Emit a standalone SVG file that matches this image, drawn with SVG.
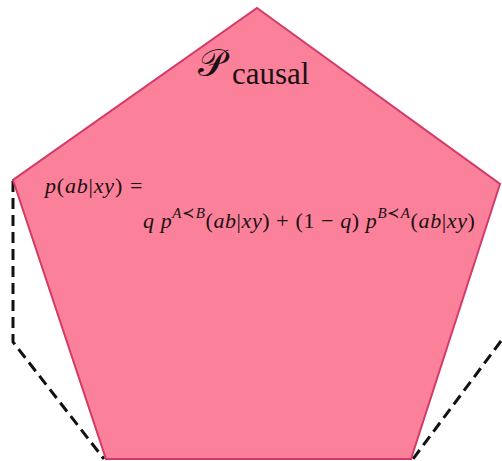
<svg xmlns="http://www.w3.org/2000/svg" width="502" height="461" viewBox="0 0 502 461">
<style>
.m{font-family:"Liberation Serif","DejaVu Serif",serif;fill:#1a1014}
.i{font-style:italic}
.d{fill:none;stroke:#111;stroke-width:3;stroke-dasharray:11,6}
</style>
<rect width="502" height="461" fill="#fff"/>
<g id="dashed">
<polyline class="d" points="13,181 13,342 104,459"/>
<polyline class="d" points="501,341 413,459"/>
</g>
<g id="pentagon">
<polygon points="257,8 500,184 411,459 106,459 13,180" fill="#fb8099" stroke="#d43a68" stroke-width="2"/>
</g>
<g id="label">
<text class="m" x="198" y="76" font-size="38">𝒫</text>
<text class="m" x="232" y="84" font-size="31">causal</text>
</g>
<g id="formula">
<text class="m i" x="45" y="193" font-size="22" letter-spacing="0.8">p<tspan font-style="normal">(</tspan>ab<tspan font-style="normal">|</tspan>xy<tspan font-style="normal">)</tspan><tspan font-style="normal" x="130">=</tspan></text>
<text class="m i" x="143" y="228" font-size="22" letter-spacing="0.6">q p<tspan font-size="15" dy="-10">A<tspan font-style="normal">≺</tspan>B</tspan><tspan dy="10" font-style="normal">(</tspan>ab<tspan font-style="normal">|</tspan>xy<tspan font-style="normal">) + (1 − </tspan>q<tspan font-style="normal">) </tspan>p<tspan font-size="15" dy="-10">B<tspan font-style="normal">≺</tspan>A</tspan><tspan dy="10" font-style="normal">(</tspan>ab<tspan font-style="normal">|</tspan>xy<tspan font-style="normal">)</tspan></text>
</g>
</svg>
